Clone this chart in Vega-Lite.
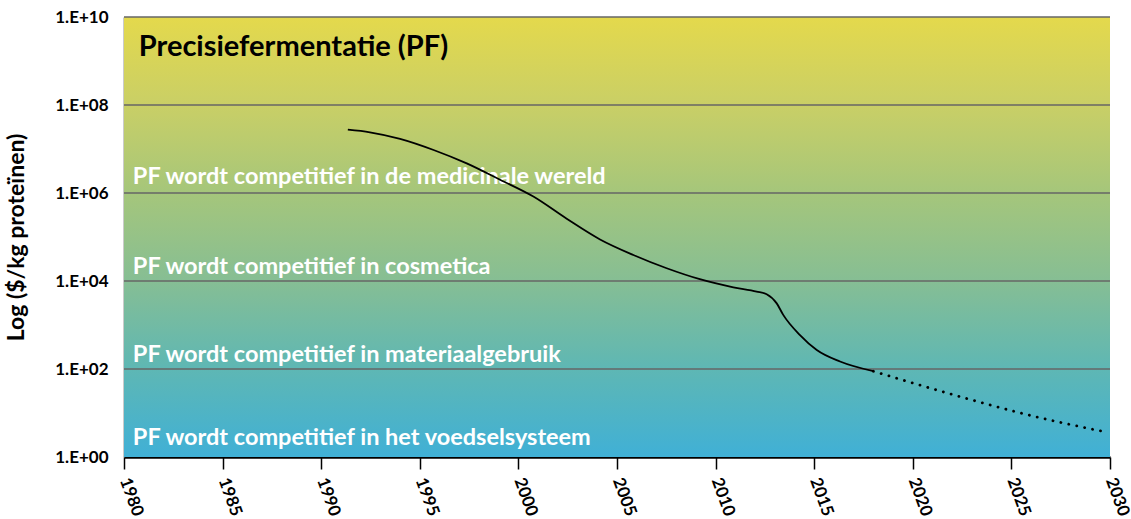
{
  "$schema": "https://vega.github.io/schema/vega-lite/v6.json",
  "width": 986,
  "height": 440,
  "autosize": "none",
  "padding": {"left": 124, "top": 17, "right": 21, "bottom": 62},
  "background": "white",
  "config": {"view": {"stroke": null}, "font": "Lato"},
  "datasets": {
    "bg": [{"x": 1980, "x2": 2030, "y": 1, "y2": 10000000000}],
    "grid": [{"v": 100}, {"v": 10000}, {"v": 1000000}, {"v": 100000000}, {"v": 10000000000}],
    "solid": [
      {"year": 1991.35, "cost": 27500000},
      {"year": 1992.47, "cost": 24000000},
      {"year": 1994.0, "cost": 17000000},
      {"year": 1995.7, "cost": 9500000},
      {"year": 1997.38, "cost": 4700000},
      {"year": 1999.07, "cost": 2000000},
      {"year": 2000.76, "cost": 830000},
      {"year": 2002.45, "cost": 260000},
      {"year": 2004.14, "cost": 88000},
      {"year": 2005.83, "cost": 39000},
      {"year": 2007.52, "cost": 19500},
      {"year": 2009.2, "cost": 11000},
      {"year": 2010.9, "cost": 7200},
      {"year": 2012.08, "cost": 5750},
      {"year": 2012.59, "cost": 5000},
      {"year": 2013.1, "cost": 3100},
      {"year": 2013.43, "cost": 1700},
      {"year": 2014.28, "cost": 590},
      {"year": 2015.13, "cost": 270},
      {"year": 2016.31, "cost": 148},
      {"year": 2018.0, "cost": 89}
    ],
    "dotted": [
      {"year": 2018.0, "cost": 89},
      {"year": 2022.72, "cost": 21.4},
      {"year": 2026.1, "cost": 8.5},
      {"year": 2029.66, "cost": 3.8}
    ],
    "labels": [
      {"year": 1980.45, "v": 2300000, "txt": "PF wordt competitief in de medicinale wereld"},
      {"year": 1980.45, "v": 21000, "txt": "PF wordt competitief in cosmetica"},
      {"year": 1980.45, "v": 210, "txt": "PF wordt competitief in materiaalgebruik"},
      {"year": 1980.45, "v": 2.7, "txt": "PF wordt competitief in het voedselsysteem"}
    ],
    "title": [{"year": 1980.75, "v": 2100000000, "txt": "Precisiefermentatie (PF)"}]
  },
  "layer": [
    {
      "data": {"name": "bg"},
      "mark": {
        "type": "rect",
        "fill": {
          "gradient": "linear",
          "x1": 0, "y1": 0, "x2": 0, "y2": 1,
          "stops": [
            {"offset": 0, "color": "#e4d94c"},
            {"offset": 0.2, "color": "#c9cf66"},
            {"offset": 0.4, "color": "#a5c67b"},
            {"offset": 0.6, "color": "#86be94"},
            {"offset": 0.8, "color": "#5eb7b4"},
            {"offset": 1, "color": "#40b0d6"}
          ]
        }
      },
      "encoding": {
        "x": {"field": "x", "type": "quantitative", "scale": {"domain": [1980, 2030], "nice": false, "zero": false},
          "axis": {
            "values": [1980, 1985, 1990, 1995, 2000, 2005, 2010, 2015, 2020, 2025, 2030],
            "format": "d", "title": null, "grid": false,
            "labelAngle": 70, "labelAlign": "left", "labelBaseline": "middle",
            "labelFontSize": 17, "labelFontWeight": "bold", "labelColor": "black", "labelFont": "Lato",
            "labelPadding": 9, "labelOverlap": false,
            "domainColor": "black", "domainWidth": 2.5,
            "tickColor": "black", "tickWidth": 1.5, "tickSize": 12
          }},
        "x2": {"field": "x2"},
        "y": {"field": "y", "type": "quantitative", "scale": {"type": "log", "domain": [1, 10000000000], "nice": false},
          "axis": {
            "values": [1, 100, 10000, 1000000, 100000000, 10000000000],
            "labelExpr": "'1.E+' + (round(log(datum.value)/LN10) < 10 ? '0' : '') + round(log(datum.value)/LN10)",
            "title": "Log ($/kg proteïnen)", "titleFontSize": 23, "titleFontWeight": "bold", "titleColor": "black",
            "titleFont": "Lato", "titlePadding": 26,
            "grid": false, "labelFontSize": 17, "labelFontWeight": "bold", "labelColor": "black", "labelFont": "Lato",
            "labelPadding": 16, "tickSize": 0,
            "domainColor": "#333", "domainWidth": 1.5
          }},
        "y2": {"field": "y2"}
      }
    },
    {
      "data": {"name": "grid"},
      "mark": {"type": "rule", "color": "#666", "strokeWidth": 1.6},
      "encoding": {"y": {"field": "v", "type": "quantitative"}}
    },
    {
      "data": {"name": "labels"},
      "mark": {"type": "text", "align": "left", "baseline": "middle", "color": "white", "fontSize": 23.5, "fontWeight": "bold", "font": "Lato"},
      "encoding": {
        "x": {"field": "year", "type": "quantitative"},
        "y": {"field": "v", "type": "quantitative"},
        "text": {"field": "txt"}
      }
    },
    {
      "data": {"name": "title"},
      "mark": {"type": "text", "align": "left", "baseline": "middle", "color": "black", "fontSize": 29, "fontWeight": "bold", "font": "Lato"},
      "encoding": {
        "x": {"field": "year", "type": "quantitative"},
        "y": {"field": "v", "type": "quantitative"},
        "text": {"field": "txt"}
      }
    },
    {
      "data": {"name": "solid"},
      "mark": {"type": "line", "color": "black", "strokeWidth": 1.8, "interpolate": "monotone"},
      "encoding": {
        "x": {"field": "year", "type": "quantitative"},
        "y": {"field": "cost", "type": "quantitative"}
      }
    },
    {
      "data": {"name": "dotted"},
      "mark": {"type": "line", "color": "black", "strokeWidth": 2.8, "strokeDash": [0.1, 8], "strokeCap": "round", "interpolate": "monotone"},
      "encoding": {
        "x": {"field": "year", "type": "quantitative"},
        "y": {"field": "cost", "type": "quantitative"}
      }
    }
  ]
}
